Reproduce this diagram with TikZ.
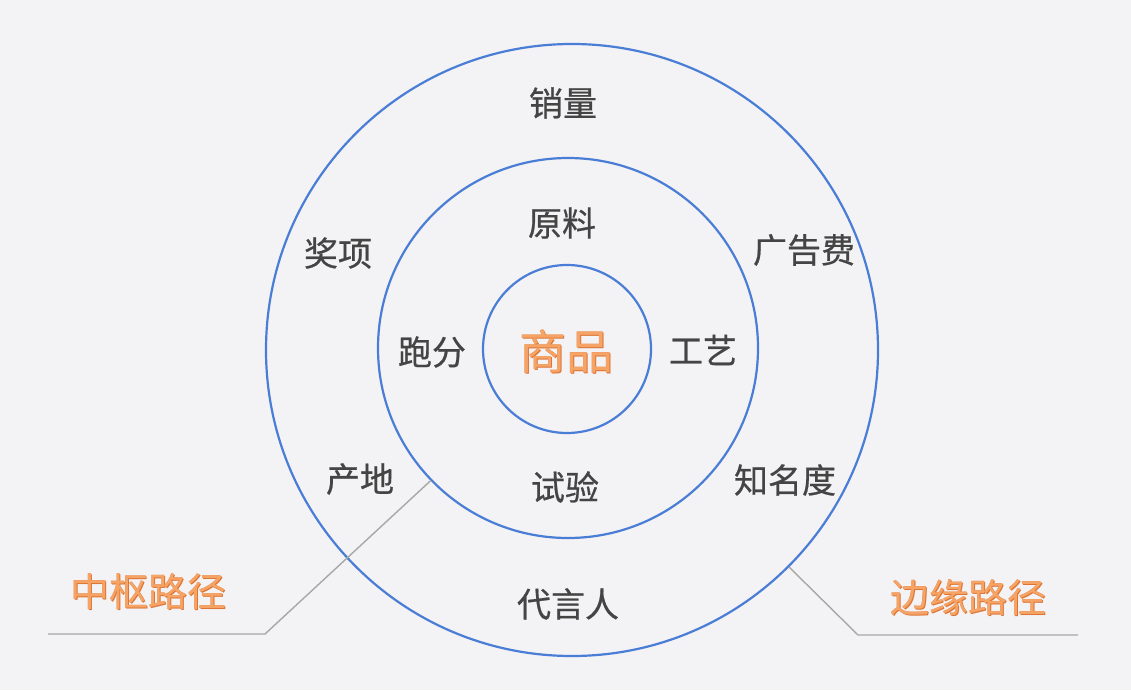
\documentclass[tikz,border=0pt]{standalone}
\usepackage{fontspec}
\setmainfont{Noto Sans CJK SC}
\newfontfamily\cjk{Noto Sans CJK SC}
\newfontfamily\cjkm[FakeBold=0.6]{Noto Sans CJK SC}
\definecolor{bg}{HTML}{F3F2F5}
\definecolor{ringblue}{HTML}{4A7ED6}
\definecolor{labelgray}{HTML}{444444}
\definecolor{hotorange}{HTML}{F6A466}
\definecolor{hotdark}{HTML}{DC7434}
\definecolor{leadergray}{HTML}{A8A8A8}
\newcommand{\hottext}[1]{\makebox[0pt][l]{\hspace{1.6pt}\raisebox{-1.6pt}{\color{hotdark}#1}}\makebox[0pt][l]{\hspace{0.6pt}\raisebox{-0.6pt}{\color{hotdark}#1}}#1}
\begin{document}
\begin{tikzpicture}[x=1pt,y=-1pt,
  ring/.style={circle,draw=ringblue,line width=2.2pt,inner sep=0pt,fill=none},
  lbl/.style={text=labelgray,font=\cjkm\fontsize{34}{34}\selectfont,inner sep=0pt},
  hot/.style={text=hotorange,font=\cjk\fontsize{#1}{#1}\selectfont,inner sep=0pt},
  leader/.style={draw=leadergray,line width=1.4pt}]
\fill[bg] (0,0) rectangle (1131,690);
\useasboundingbox (0,0) rectangle (1131,690);
\node[ring,minimum size=612pt] (outer) at (572,350) {};
\node[ring,minimum size=380pt] (mid) at (568,348) {};
\node[ring,minimum size=168pt] (inner) at (567,349) {};
% labels
\node[lbl] (xl) at (563,103) {销量};
\node[lbl] (jx) at (338,253) {奖项};
\node[lbl] (ggf) at (804,250) {广告费};
\node[lbl] (yl) at (562,223) {原料};
\node[lbl] (pf) at (432,352) {跑分};
\node[lbl] (gy) at (703,350) {工艺};
\node[lbl] (cd) at (360,479) {产地};
\node[lbl] (sy) at (565,487) {试验};
\node[lbl] (zmd) at (785,480) {知名度};
\node[lbl] (dyr) at (568,604) {代言人};
% orange titles
\node[hot=47] (sp) at (566,352) {\hottext{商品}};
\node[hot=39] (zs) at (148,592) {\hottext{中枢路径}};
\node[hot=39] (by) at (968,598) {\hottext{边缘路径}};
% leaders
\coordinate (lbend) at (265,634);
\coordinate (lend) at (48,634);
\coordinate (rbend) at (858,635);
\coordinate (rend) at (1078,635);
\draw[leader] (mid.224) -- (lbend) -- (lend);
\draw[leader] (outer.315) -- (rbend) -- (rend);
\end{tikzpicture}
\end{document}
